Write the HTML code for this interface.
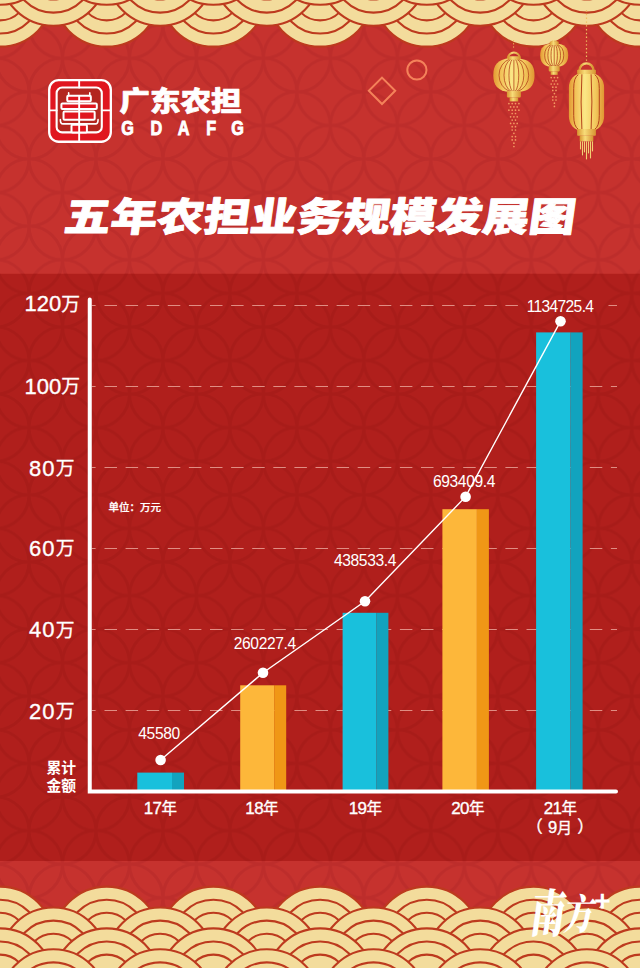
<!DOCTYPE html>
<html lang="zh"><head><meta charset="utf-8"><title>五年农担业务规模发展图</title>
<style>
html,body{margin:0;padding:0;background:#c6322e;}
body{width:640px;height:968px;overflow:hidden;position:relative;font-family:"Liberation Sans","Noto Sans CJK SC",sans-serif;}
svg{position:absolute;left:0;top:0;display:block}
text{font-family:"Liberation Sans","Noto Sans CJK SC",sans-serif;fill:#fff}
.blk{font-family:"Noto Sans CJK SC","Liberation Sans",sans-serif;font-weight:900}
</style></head><body>
<svg width="640" height="968" viewBox="0 0 640 968">
<defs>
<pattern id="pl" x="29.00" y="24.68" width="66.96" height="67.16" patternUnits="userSpaceOnUse"><ellipse cx="33.48" cy="0.00" rx="33.48" ry="33.58" fill="none" stroke="#bd2d2b" stroke-width="3.2"/><ellipse cx="0.00" cy="33.58" rx="33.48" ry="33.58" fill="none" stroke="#bd2d2b" stroke-width="3.2"/><ellipse cx="66.96" cy="33.58" rx="33.48" ry="33.58" fill="none" stroke="#bd2d2b" stroke-width="3.2"/><ellipse cx="33.48" cy="67.16" rx="33.48" ry="33.58" fill="none" stroke="#bd2d2b" stroke-width="3.2"/></pattern>
<pattern id="pd" x="29.00" y="24.68" width="66.96" height="67.16" patternUnits="userSpaceOnUse"><ellipse cx="33.48" cy="0.00" rx="33.48" ry="33.58" fill="none" stroke="#a81c19" stroke-width="3.2"/><ellipse cx="0.00" cy="33.58" rx="33.48" ry="33.58" fill="none" stroke="#a81c19" stroke-width="3.2"/><ellipse cx="66.96" cy="33.58" rx="33.48" ry="33.58" fill="none" stroke="#a81c19" stroke-width="3.2"/><ellipse cx="33.48" cy="67.16" rx="33.48" ry="33.58" fill="none" stroke="#a81c19" stroke-width="3.2"/></pattern>
<linearGradient id="gold" x1="0" x2="1" y1="0" y2="0">
<stop offset="0" stop-color="#e39a33"/><stop offset=".18" stop-color="#f2c157"/><stop offset=".45" stop-color="#fbe786"/><stop offset=".75" stop-color="#f3c95e"/><stop offset="1" stop-color="#e09632"/>
</linearGradient>
<linearGradient id="gold2" x1="0" x2="1" y1="0" y2="0">
<stop offset="0" stop-color="#d9952f"/><stop offset=".4" stop-color="#f7dc78"/><stop offset="1" stop-color="#d69230"/>
</linearGradient>
</defs>
<rect width="640" height="968" fill="#c6322e"/>
<rect width="640" height="968" fill="url(#pl)"/>
<rect x="0" y="273.8" width="640" height="587.2" fill="#b01f1c"/>
<rect x="0" y="273.8" width="640" height="587.2" fill="url(#pd)"/>
<g transform="translate(0,886.6)" stroke="#bd3a1e" stroke-width="2.1" fill="none"><circle cx="0.0" cy="53.6" r="53.6" fill="#f3dc9c"/><circle cx="0.0" cy="53.6" r="40.5"/><circle cx="0.0" cy="53.6" r="27.4"/><circle cx="106.7" cy="53.6" r="53.6" fill="#f3dc9c"/><circle cx="106.7" cy="53.6" r="40.5"/><circle cx="106.7" cy="53.6" r="27.4"/><circle cx="213.4" cy="53.6" r="53.6" fill="#f3dc9c"/><circle cx="213.4" cy="53.6" r="40.5"/><circle cx="213.4" cy="53.6" r="27.4"/><circle cx="320.1" cy="53.6" r="53.6" fill="#f3dc9c"/><circle cx="320.1" cy="53.6" r="40.5"/><circle cx="320.1" cy="53.6" r="27.4"/><circle cx="426.8" cy="53.6" r="53.6" fill="#f3dc9c"/><circle cx="426.8" cy="53.6" r="40.5"/><circle cx="426.8" cy="53.6" r="27.4"/><circle cx="533.5" cy="53.6" r="53.6" fill="#f3dc9c"/><circle cx="533.5" cy="53.6" r="40.5"/><circle cx="533.5" cy="53.6" r="27.4"/><circle cx="640.2" cy="53.6" r="53.6" fill="#f3dc9c"/><circle cx="640.2" cy="53.6" r="40.5"/><circle cx="640.2" cy="53.6" r="27.4"/>
<circle cx="-53.4" cy="74.5" r="53.6" fill="#f3dc9c"/><circle cx="-53.4" cy="74.5" r="40.5"/><circle cx="-53.4" cy="74.5" r="27.4"/><circle cx="53.4" cy="74.5" r="53.6" fill="#f3dc9c"/><circle cx="53.4" cy="74.5" r="40.5"/><circle cx="53.4" cy="74.5" r="27.4"/><circle cx="160.1" cy="74.5" r="53.6" fill="#f3dc9c"/><circle cx="160.1" cy="74.5" r="40.5"/><circle cx="160.1" cy="74.5" r="27.4"/><circle cx="266.8" cy="74.5" r="53.6" fill="#f3dc9c"/><circle cx="266.8" cy="74.5" r="40.5"/><circle cx="266.8" cy="74.5" r="27.4"/><circle cx="373.5" cy="74.5" r="53.6" fill="#f3dc9c"/><circle cx="373.5" cy="74.5" r="40.5"/><circle cx="373.5" cy="74.5" r="27.4"/><circle cx="480.2" cy="74.5" r="53.6" fill="#f3dc9c"/><circle cx="480.2" cy="74.5" r="40.5"/><circle cx="480.2" cy="74.5" r="27.4"/><circle cx="586.9" cy="74.5" r="53.6" fill="#f3dc9c"/><circle cx="586.9" cy="74.5" r="40.5"/><circle cx="586.9" cy="74.5" r="27.4"/><circle cx="693.6" cy="74.5" r="53.6" fill="#f3dc9c"/><circle cx="693.6" cy="74.5" r="40.5"/><circle cx="693.6" cy="74.5" r="27.4"/>
<circle cx="0.0" cy="95.4" r="53.6" fill="#f3dc9c"/><circle cx="0.0" cy="95.4" r="40.5"/><circle cx="0.0" cy="95.4" r="27.4"/><circle cx="106.7" cy="95.4" r="53.6" fill="#f3dc9c"/><circle cx="106.7" cy="95.4" r="40.5"/><circle cx="106.7" cy="95.4" r="27.4"/><circle cx="213.4" cy="95.4" r="53.6" fill="#f3dc9c"/><circle cx="213.4" cy="95.4" r="40.5"/><circle cx="213.4" cy="95.4" r="27.4"/><circle cx="320.1" cy="95.4" r="53.6" fill="#f3dc9c"/><circle cx="320.1" cy="95.4" r="40.5"/><circle cx="320.1" cy="95.4" r="27.4"/><circle cx="426.8" cy="95.4" r="53.6" fill="#f3dc9c"/><circle cx="426.8" cy="95.4" r="40.5"/><circle cx="426.8" cy="95.4" r="27.4"/><circle cx="533.5" cy="95.4" r="53.6" fill="#f3dc9c"/><circle cx="533.5" cy="95.4" r="40.5"/><circle cx="533.5" cy="95.4" r="27.4"/><circle cx="640.2" cy="95.4" r="53.6" fill="#f3dc9c"/><circle cx="640.2" cy="95.4" r="40.5"/><circle cx="640.2" cy="95.4" r="27.4"/>
<circle cx="-53.4" cy="116.3" r="53.6" fill="#f3dc9c"/><circle cx="-53.4" cy="116.3" r="40.5"/><circle cx="-53.4" cy="116.3" r="27.4"/><circle cx="53.4" cy="116.3" r="53.6" fill="#f3dc9c"/><circle cx="53.4" cy="116.3" r="40.5"/><circle cx="53.4" cy="116.3" r="27.4"/><circle cx="160.1" cy="116.3" r="53.6" fill="#f3dc9c"/><circle cx="160.1" cy="116.3" r="40.5"/><circle cx="160.1" cy="116.3" r="27.4"/><circle cx="266.8" cy="116.3" r="53.6" fill="#f3dc9c"/><circle cx="266.8" cy="116.3" r="40.5"/><circle cx="266.8" cy="116.3" r="27.4"/><circle cx="373.5" cy="116.3" r="53.6" fill="#f3dc9c"/><circle cx="373.5" cy="116.3" r="40.5"/><circle cx="373.5" cy="116.3" r="27.4"/><circle cx="480.2" cy="116.3" r="53.6" fill="#f3dc9c"/><circle cx="480.2" cy="116.3" r="40.5"/><circle cx="480.2" cy="116.3" r="27.4"/><circle cx="586.9" cy="116.3" r="53.6" fill="#f3dc9c"/><circle cx="586.9" cy="116.3" r="40.5"/><circle cx="586.9" cy="116.3" r="27.4"/><circle cx="693.6" cy="116.3" r="53.6" fill="#f3dc9c"/><circle cx="693.6" cy="116.3" r="40.5"/><circle cx="693.6" cy="116.3" r="27.4"/>
<circle cx="0.0" cy="137.2" r="53.6" fill="#f3dc9c"/><circle cx="0.0" cy="137.2" r="40.5"/><circle cx="0.0" cy="137.2" r="27.4"/><circle cx="106.7" cy="137.2" r="53.6" fill="#f3dc9c"/><circle cx="106.7" cy="137.2" r="40.5"/><circle cx="106.7" cy="137.2" r="27.4"/><circle cx="213.4" cy="137.2" r="53.6" fill="#f3dc9c"/><circle cx="213.4" cy="137.2" r="40.5"/><circle cx="213.4" cy="137.2" r="27.4"/><circle cx="320.1" cy="137.2" r="53.6" fill="#f3dc9c"/><circle cx="320.1" cy="137.2" r="40.5"/><circle cx="320.1" cy="137.2" r="27.4"/><circle cx="426.8" cy="137.2" r="53.6" fill="#f3dc9c"/><circle cx="426.8" cy="137.2" r="40.5"/><circle cx="426.8" cy="137.2" r="27.4"/><circle cx="533.5" cy="137.2" r="53.6" fill="#f3dc9c"/><circle cx="533.5" cy="137.2" r="40.5"/><circle cx="533.5" cy="137.2" r="27.4"/><circle cx="640.2" cy="137.2" r="53.6" fill="#f3dc9c"/><circle cx="640.2" cy="137.2" r="40.5"/><circle cx="640.2" cy="137.2" r="27.4"/>
</g>
<g transform="translate(0,46.6) scale(1,-1)" stroke="#bd3a1e" stroke-width="2.1" fill="none"><circle cx="0.0" cy="53.6" r="53.6" fill="#f3dc9c"/><circle cx="0.0" cy="53.6" r="40.5"/><circle cx="0.0" cy="53.6" r="27.4"/><circle cx="106.7" cy="53.6" r="53.6" fill="#f3dc9c"/><circle cx="106.7" cy="53.6" r="40.5"/><circle cx="106.7" cy="53.6" r="27.4"/><circle cx="213.4" cy="53.6" r="53.6" fill="#f3dc9c"/><circle cx="213.4" cy="53.6" r="40.5"/><circle cx="213.4" cy="53.6" r="27.4"/><circle cx="320.1" cy="53.6" r="53.6" fill="#f3dc9c"/><circle cx="320.1" cy="53.6" r="40.5"/><circle cx="320.1" cy="53.6" r="27.4"/><circle cx="426.8" cy="53.6" r="53.6" fill="#f3dc9c"/><circle cx="426.8" cy="53.6" r="40.5"/><circle cx="426.8" cy="53.6" r="27.4"/><circle cx="533.5" cy="53.6" r="53.6" fill="#f3dc9c"/><circle cx="533.5" cy="53.6" r="40.5"/><circle cx="533.5" cy="53.6" r="27.4"/><circle cx="640.2" cy="53.6" r="53.6" fill="#f3dc9c"/><circle cx="640.2" cy="53.6" r="40.5"/><circle cx="640.2" cy="53.6" r="27.4"/>
<circle cx="-53.4" cy="74.5" r="53.6" fill="#f3dc9c"/><circle cx="-53.4" cy="74.5" r="40.5"/><circle cx="-53.4" cy="74.5" r="27.4"/><circle cx="53.4" cy="74.5" r="53.6" fill="#f3dc9c"/><circle cx="53.4" cy="74.5" r="40.5"/><circle cx="53.4" cy="74.5" r="27.4"/><circle cx="160.1" cy="74.5" r="53.6" fill="#f3dc9c"/><circle cx="160.1" cy="74.5" r="40.5"/><circle cx="160.1" cy="74.5" r="27.4"/><circle cx="266.8" cy="74.5" r="53.6" fill="#f3dc9c"/><circle cx="266.8" cy="74.5" r="40.5"/><circle cx="266.8" cy="74.5" r="27.4"/><circle cx="373.5" cy="74.5" r="53.6" fill="#f3dc9c"/><circle cx="373.5" cy="74.5" r="40.5"/><circle cx="373.5" cy="74.5" r="27.4"/><circle cx="480.2" cy="74.5" r="53.6" fill="#f3dc9c"/><circle cx="480.2" cy="74.5" r="40.5"/><circle cx="480.2" cy="74.5" r="27.4"/><circle cx="586.9" cy="74.5" r="53.6" fill="#f3dc9c"/><circle cx="586.9" cy="74.5" r="40.5"/><circle cx="586.9" cy="74.5" r="27.4"/><circle cx="693.6" cy="74.5" r="53.6" fill="#f3dc9c"/><circle cx="693.6" cy="74.5" r="40.5"/><circle cx="693.6" cy="74.5" r="27.4"/>
<circle cx="0.0" cy="95.4" r="53.6" fill="#f3dc9c"/><circle cx="0.0" cy="95.4" r="40.5"/><circle cx="0.0" cy="95.4" r="27.4"/><circle cx="106.7" cy="95.4" r="53.6" fill="#f3dc9c"/><circle cx="106.7" cy="95.4" r="40.5"/><circle cx="106.7" cy="95.4" r="27.4"/><circle cx="213.4" cy="95.4" r="53.6" fill="#f3dc9c"/><circle cx="213.4" cy="95.4" r="40.5"/><circle cx="213.4" cy="95.4" r="27.4"/><circle cx="320.1" cy="95.4" r="53.6" fill="#f3dc9c"/><circle cx="320.1" cy="95.4" r="40.5"/><circle cx="320.1" cy="95.4" r="27.4"/><circle cx="426.8" cy="95.4" r="53.6" fill="#f3dc9c"/><circle cx="426.8" cy="95.4" r="40.5"/><circle cx="426.8" cy="95.4" r="27.4"/><circle cx="533.5" cy="95.4" r="53.6" fill="#f3dc9c"/><circle cx="533.5" cy="95.4" r="40.5"/><circle cx="533.5" cy="95.4" r="27.4"/><circle cx="640.2" cy="95.4" r="53.6" fill="#f3dc9c"/><circle cx="640.2" cy="95.4" r="40.5"/><circle cx="640.2" cy="95.4" r="27.4"/>
<circle cx="-53.4" cy="116.3" r="53.6" fill="#f3dc9c"/><circle cx="-53.4" cy="116.3" r="40.5"/><circle cx="-53.4" cy="116.3" r="27.4"/><circle cx="53.4" cy="116.3" r="53.6" fill="#f3dc9c"/><circle cx="53.4" cy="116.3" r="40.5"/><circle cx="53.4" cy="116.3" r="27.4"/><circle cx="160.1" cy="116.3" r="53.6" fill="#f3dc9c"/><circle cx="160.1" cy="116.3" r="40.5"/><circle cx="160.1" cy="116.3" r="27.4"/><circle cx="266.8" cy="116.3" r="53.6" fill="#f3dc9c"/><circle cx="266.8" cy="116.3" r="40.5"/><circle cx="266.8" cy="116.3" r="27.4"/><circle cx="373.5" cy="116.3" r="53.6" fill="#f3dc9c"/><circle cx="373.5" cy="116.3" r="40.5"/><circle cx="373.5" cy="116.3" r="27.4"/><circle cx="480.2" cy="116.3" r="53.6" fill="#f3dc9c"/><circle cx="480.2" cy="116.3" r="40.5"/><circle cx="480.2" cy="116.3" r="27.4"/><circle cx="586.9" cy="116.3" r="53.6" fill="#f3dc9c"/><circle cx="586.9" cy="116.3" r="40.5"/><circle cx="586.9" cy="116.3" r="27.4"/><circle cx="693.6" cy="116.3" r="53.6" fill="#f3dc9c"/><circle cx="693.6" cy="116.3" r="40.5"/><circle cx="693.6" cy="116.3" r="27.4"/>
<circle cx="0.0" cy="137.2" r="53.6" fill="#f3dc9c"/><circle cx="0.0" cy="137.2" r="40.5"/><circle cx="0.0" cy="137.2" r="27.4"/><circle cx="106.7" cy="137.2" r="53.6" fill="#f3dc9c"/><circle cx="106.7" cy="137.2" r="40.5"/><circle cx="106.7" cy="137.2" r="27.4"/><circle cx="213.4" cy="137.2" r="53.6" fill="#f3dc9c"/><circle cx="213.4" cy="137.2" r="40.5"/><circle cx="213.4" cy="137.2" r="27.4"/><circle cx="320.1" cy="137.2" r="53.6" fill="#f3dc9c"/><circle cx="320.1" cy="137.2" r="40.5"/><circle cx="320.1" cy="137.2" r="27.4"/><circle cx="426.8" cy="137.2" r="53.6" fill="#f3dc9c"/><circle cx="426.8" cy="137.2" r="40.5"/><circle cx="426.8" cy="137.2" r="27.4"/><circle cx="533.5" cy="137.2" r="53.6" fill="#f3dc9c"/><circle cx="533.5" cy="137.2" r="40.5"/><circle cx="533.5" cy="137.2" r="27.4"/><circle cx="640.2" cy="137.2" r="53.6" fill="#f3dc9c"/><circle cx="640.2" cy="137.2" r="40.5"/><circle cx="640.2" cy="137.2" r="27.4"/>
</g>
<circle cx="416.9" cy="70" r="9.6" fill="none" stroke="#f4825a" stroke-width="2"/>
<path d="M382 77.6 L395.2 90.8 L382 104 L368.8 90.8 Z" fill="none" stroke="#f4825a" stroke-width="2"/>
<g><path d="M507.7 58.8A6.2 6.2 0 0 1 520.1 58.8" fill="none" stroke="url(#gold2)" stroke-width="2.0"/><path d="M513.9 58.2C529.9 58.2 534.5 64.7 534.5 75.2C534.5 85.7 529.9 92.2 513.9 92.2C497.9 92.2 493.3 85.7 493.3 75.2C493.3 64.7 497.9 58.2 513.9 58.2Z" fill="url(#gold)"/><path d="M509.8 59.0 A15.1 16.9 0 0 0 509.8 91.4" fill="none" stroke="#b5451c" stroke-width=".8"/><path d="M511.2 59.0 A10.1 16.9 0 0 0 511.2 91.4" fill="none" stroke="#b5451c" stroke-width=".8"/><path d="M512.5 59.0 A5.0 16.9 0 0 0 512.5 91.4" fill="none" stroke="#b5451c" stroke-width=".8"/><line x1="513.9" y1="59.2" x2="513.9" y2="91.2" stroke="#b5451c" stroke-width=".8"/><path d="M515.2 59.0 A5.0 16.9 0 0 1 515.2 91.4" fill="none" stroke="#b5451c" stroke-width=".8"/><path d="M516.6 59.0 A10.1 16.9 0 0 1 516.6 91.4" fill="none" stroke="#b5451c" stroke-width=".8"/><path d="M517.9 59.0 A15.1 16.9 0 0 1 517.9 91.4" fill="none" stroke="#b5451c" stroke-width=".8"/><rect x="507.9" y="56.2" width="12.0" height="3.6" rx=".8" fill="url(#gold2)"/><rect x="506.9" y="91.2" width="14.0" height="6.2" rx=".8" fill="url(#gold2)"/><rect x="509.6" y="97.4" width="8.6" height="4.0" fill="url(#gold2)"/></g>
<g><path d="M551.0 44.1A3.2 3.2 0 0 1 557.4 44.1" fill="none" stroke="url(#gold2)" stroke-width="1.2"/><path d="M554.2 43.6C565.0 43.6 568.2 48.1 568.2 55.3C568.2 62.5 565.0 67.0 554.2 67.0C543.4 67.0 540.2 62.5 540.2 55.3C540.2 48.1 543.4 43.6 554.2 43.6Z" fill="url(#gold)"/><path d="M551.2 44.4 A10.3 11.7 0 0 0 551.2 66.2" fill="none" stroke="#b5451c" stroke-width=".8"/><path d="M552.2 44.4 A6.8 11.7 0 0 0 552.2 66.2" fill="none" stroke="#b5451c" stroke-width=".8"/><path d="M553.2 44.4 A3.4 11.7 0 0 0 553.2 66.2" fill="none" stroke="#b5451c" stroke-width=".8"/><line x1="554.2" y1="44.6" x2="554.2" y2="66.0" stroke="#b5451c" stroke-width=".8"/><path d="M555.2 44.4 A3.4 11.7 0 0 1 555.2 66.2" fill="none" stroke="#b5451c" stroke-width=".8"/><path d="M556.2 44.4 A6.8 11.7 0 0 1 556.2 66.2" fill="none" stroke="#b5451c" stroke-width=".8"/><path d="M557.2 44.4 A10.3 11.7 0 0 1 557.2 66.2" fill="none" stroke="#b5451c" stroke-width=".8"/><rect x="549.7" y="41.6" width="9.0" height="3.6" rx=".8" fill="url(#gold2)"/><rect x="548.7" y="66.0" width="11.0" height="5.4" rx=".8" fill="url(#gold2)"/><rect x="550.7" y="71.4" width="7.0" height="3.4" fill="url(#gold2)"/></g>
<circle cx="508.9" cy="103.6" r=".85" fill="#f39a62"/><circle cx="512.2" cy="103.6" r=".85" fill="#f39a62"/><circle cx="515.5" cy="103.6" r=".85" fill="#f39a62"/><circle cx="518.9" cy="103.6" r=".85" fill="#f39a62"/><circle cx="510.6" cy="106.9" r=".85" fill="#f39a62"/><circle cx="513.9" cy="106.9" r=".85" fill="#f39a62"/><circle cx="517.2" cy="106.9" r=".85" fill="#f39a62"/><circle cx="508.9" cy="110.2" r=".85" fill="#f39a62"/><circle cx="512.2" cy="110.2" r=".85" fill="#f39a62"/><circle cx="515.5" cy="110.2" r=".85" fill="#f39a62"/><circle cx="518.9" cy="110.2" r=".85" fill="#f39a62"/><circle cx="512.2" cy="113.5" r=".85" fill="#f39a62"/><circle cx="515.5" cy="113.5" r=".85" fill="#f39a62"/><circle cx="510.6" cy="116.8" r=".85" fill="#f39a62"/><circle cx="513.9" cy="116.8" r=".85" fill="#f39a62"/><circle cx="517.2" cy="116.8" r=".85" fill="#f39a62"/><circle cx="512.2" cy="120.1" r=".85" fill="#f39a62"/><circle cx="515.5" cy="120.1" r=".85" fill="#f39a62"/><circle cx="510.6" cy="123.4" r=".85" fill="#f39a62"/><circle cx="513.9" cy="123.4" r=".85" fill="#f39a62"/><circle cx="517.2" cy="123.4" r=".85" fill="#f39a62"/><circle cx="512.2" cy="126.7" r=".85" fill="#f39a62"/><circle cx="515.5" cy="126.7" r=".85" fill="#f39a62"/><circle cx="512.2" cy="130.0" r=".85" fill="#f39a62"/><circle cx="515.5" cy="130.0" r=".85" fill="#f39a62"/><circle cx="513.9" cy="133.3" r=".85" fill="#f39a62"/><circle cx="512.2" cy="136.6" r=".85" fill="#f39a62"/><circle cx="515.5" cy="136.6" r=".85" fill="#f39a62"/><circle cx="512.2" cy="139.9" r=".85" fill="#f39a62"/><circle cx="515.5" cy="139.9" r=".85" fill="#f39a62"/><circle cx="513.9" cy="143.2" r=".85" fill="#f39a62"/><circle cx="513.9" cy="146.5" r=".85" fill="#f39a62"/>
<circle cx="551.2" cy="77.6" r=".85" fill="#f39a62"/><circle cx="554.4" cy="77.6" r=".85" fill="#f39a62"/><circle cx="557.6" cy="77.6" r=".85" fill="#f39a62"/><circle cx="552.8" cy="80.8" r=".85" fill="#f39a62"/><circle cx="556.0" cy="80.8" r=".85" fill="#f39a62"/><circle cx="551.2" cy="84.0" r=".85" fill="#f39a62"/><circle cx="554.4" cy="84.0" r=".85" fill="#f39a62"/><circle cx="557.6" cy="84.0" r=".85" fill="#f39a62"/><circle cx="552.8" cy="87.2" r=".85" fill="#f39a62"/><circle cx="556.0" cy="87.2" r=".85" fill="#f39a62"/><circle cx="552.8" cy="90.4" r=".85" fill="#f39a62"/><circle cx="556.0" cy="90.4" r=".85" fill="#f39a62"/><circle cx="554.4" cy="93.6" r=".85" fill="#f39a62"/><circle cx="552.8" cy="96.8" r=".85" fill="#f39a62"/><circle cx="556.0" cy="96.8" r=".85" fill="#f39a62"/><circle cx="552.8" cy="100.0" r=".85" fill="#f39a62"/><circle cx="556.0" cy="100.0" r=".85" fill="#f39a62"/><circle cx="554.4" cy="103.2" r=".85" fill="#f39a62"/><circle cx="554.4" cy="106.4" r=".85" fill="#f39a62"/>
<line x1="513.6" y1="40" x2="513.6" y2="49" stroke="#f0c060" stroke-width="1" stroke-dasharray="1.2 2"/>
<line x1="586.5" y1="10" x2="586.5" y2="61" stroke="#f0c060" stroke-width="1.2" stroke-dasharray="1.4 2.4"/>
<g><path d="M579.5 70.3A7.0 7.0 0 0 1 593.5 70.3" fill="none" stroke="url(#gold2)" stroke-width="2.3"/><rect x="568.9" y="73.5" width="35.2" height="57.0" rx="12.5" ry="14" fill="url(#gold)"/><path d="M578.3 74.7Q573.7 77.5 573.7 88.5V115.5Q573.7 126.5 578.3 129.3" fill="none" stroke="#b5451c" stroke-width="1"/><path d="M581.9 74.3Q580.3 102.0 581.9 129.7" fill="none" stroke="#b5451c" stroke-width="1"/><path d="M594.7 74.7Q599.3 77.5 599.3 88.5V115.5Q599.3 126.5 594.7 129.3" fill="none" stroke="#b5451c" stroke-width="1"/><path d="M591.1 74.3Q592.7 102.0 591.1 129.7" fill="none" stroke="#b5451c" stroke-width="1"/><rect x="577.1" y="69.8" width="18.8" height="4.2" rx=".8" fill="url(#gold2)"/><rect x="577.1" y="129" width="18.8" height="6.7" rx=".8" fill="url(#gold2)"/><rect x="579.7" y="135.7" width="13.6" height="5.7" fill="url(#gold2)"/><line x1="580.5" y1="141.4" x2="580.5" y2="149.4" stroke="#f3cf73" stroke-width="1.1"/><line x1="582.5" y1="141.4" x2="582.5" y2="155.4" stroke="#f3cf73" stroke-width="1.1"/><line x1="584.5" y1="141.4" x2="584.5" y2="152.4" stroke="#f3cf73" stroke-width="1.1"/><line x1="586.5" y1="141.4" x2="586.5" y2="159.4" stroke="#f3cf73" stroke-width="1.1"/><line x1="588.5" y1="141.4" x2="588.5" y2="153.4" stroke="#f3cf73" stroke-width="1.1"/><line x1="590.5" y1="141.4" x2="590.5" y2="158.4" stroke="#f3cf73" stroke-width="1.1"/><line x1="592.5" y1="141.4" x2="592.5" y2="151.4" stroke="#f3cf73" stroke-width="1.1"/></g>
<g stroke-linecap="round" stroke-linejoin="round"><rect x="49.19" y="80.13" width="61.64" height="61.64" rx="9.5" fill="#e0161f" stroke="#fff" stroke-width="2.3"/><rect x="56.63" y="87.56" width="45.16" height="44.85" rx="5.5" fill="#b3261f" stroke="#fff" stroke-width="2.1"/><path d="M79.16 80.13V87.56M79.16 132.41V141.76M49.19 110.41H56.63M101.79 110.41H110.82" stroke="#fff" stroke-width="1.9" fill="none"/><rect x="71.50" y="124.76" width="15.41" height="7.65" rx="1" fill="#e0161f" stroke="#fff" stroke-width="2.0"/><rect x="67.25" y="95.85" width="23.59" height="5.31" rx="1" fill="#e0161f" stroke="#fff" stroke-width="2.0"/><rect x="61.41" y="103.50" width="35.39" height="5.53" rx="1" fill="#e0161f" stroke="#fff" stroke-width="2.0"/><rect x="63.53" y="111.48" width="31.14" height="8.18" rx="1" fill="#e0161f" stroke="#fff" stroke-width="2.0"/><path d="M60.35 119.66Q60.35 123.91 63.00 123.91H95.42Q98.07 123.91 98.07 119.66" stroke="#fff" stroke-width="1.6" fill="none"/><path d="M68.64 92.88V95.85" stroke="#fff" stroke-width="1.6"/><path d="M89.78 92.88V95.85" stroke="#fff" stroke-width="1.6"/><path d="M79.16 95.85V132.41" stroke="#fff" stroke-width="1.9"/></g>
<text class="blk" transform="translate(119.5,110.5) scale(1.13,1)" font-size="27" letter-spacing="0" stroke="#fff" stroke-width=".7" stroke-linejoin="round">广东农担</text>
<text transform="translate(0,134.7) scale(.8,1)" x="159.38 195.50 229.62 264.12 296.88" font-size="20.3" font-weight="700" stroke="#fff" stroke-width=".9" text-anchor="middle">GDAFG</text>
<text id="title" class="blk" transform="translate(62.8,230.5) skewX(-8) scale(1.177,1)" font-size="39.5" letter-spacing="0" stroke="#fff" stroke-width=".9" stroke-linejoin="round">五年农担业务规模发展图</text>
<line x1="104.5" y1="305.5" x2="524" y2="305.5" stroke="#e9a196" stroke-width="1" stroke-dasharray="12.5 8.6" opacity=".85"/>
<line x1="104.5" y1="386.5" x2="617" y2="386.5" stroke="#e9a196" stroke-width="1" stroke-dasharray="12.5 8.6" opacity=".85"/>
<line x1="104.5" y1="467.5" x2="617" y2="467.5" stroke="#e9a196" stroke-width="1" stroke-dasharray="12.5 8.6" opacity=".85"/>
<line x1="104.5" y1="548.5" x2="617" y2="548.5" stroke="#e9a196" stroke-width="1" stroke-dasharray="12.5 8.6" opacity=".85"/>
<line x1="104.5" y1="629.5" x2="617" y2="629.5" stroke="#e9a196" stroke-width="1" stroke-dasharray="12.5 8.6" opacity=".85"/>
<line x1="104.5" y1="710.5" x2="617" y2="710.5" stroke="#e9a196" stroke-width="1" stroke-dasharray="12.5 8.6" opacity=".85"/>
<line x1="608.5" y1="305.5" x2="617" y2="305.5" stroke="#e9a196" stroke-width="1" opacity=".85"/>
<text x="52.3" y="311.1" font-size="22" text-anchor="middle" letter-spacing="0" stroke="#fff" stroke-width=".35">120<tspan font-size="18.8" dy="-.6" stroke-width=".3">万</tspan></text>
<line x1="91.7" y1="305.5" x2="95.6" y2="305.5" stroke="#e9a196" stroke-width="1" opacity=".85"/>
<text x="52.3" y="393.5" font-size="22" text-anchor="middle" letter-spacing="0" stroke="#fff" stroke-width=".35">100<tspan font-size="18.8" dy="-.6" stroke-width=".3">万</tspan></text>
<line x1="91.7" y1="386.5" x2="95.6" y2="386.5" stroke="#e9a196" stroke-width="1" opacity=".85"/>
<text x="52.3" y="476.0" font-size="22" text-anchor="middle" letter-spacing="1.1" stroke="#fff" stroke-width=".35">80<tspan font-size="18.8" dy="-.6" stroke-width=".3">万</tspan></text>
<line x1="91.7" y1="467.5" x2="95.6" y2="467.5" stroke="#e9a196" stroke-width="1" opacity=".85"/>
<text x="52.3" y="555.7" font-size="22" text-anchor="middle" letter-spacing="1.1" stroke="#fff" stroke-width=".35">60<tspan font-size="18.8" dy="-.6" stroke-width=".3">万</tspan></text>
<line x1="91.7" y1="548.5" x2="95.6" y2="548.5" stroke="#e9a196" stroke-width="1" opacity=".85"/>
<text x="52.3" y="637.1" font-size="22" text-anchor="middle" letter-spacing="1.1" stroke="#fff" stroke-width=".35">40<tspan font-size="18.8" dy="-.6" stroke-width=".3">万</tspan></text>
<line x1="91.7" y1="629.5" x2="95.6" y2="629.5" stroke="#e9a196" stroke-width="1" opacity=".85"/>
<text x="52.3" y="719.0" font-size="22" text-anchor="middle" letter-spacing="1.1" stroke="#fff" stroke-width=".35">20<tspan font-size="18.8" dy="-.6" stroke-width=".3">万</tspan></text>
<line x1="91.7" y1="710.5" x2="95.6" y2="710.5" stroke="#e9a196" stroke-width="1" opacity=".85"/>
<text x="108.6" y="510.6" font-size="10.5" stroke="#fff" stroke-width=".25" style="font-family:'Noto Sans CJK SC',sans-serif;font-weight:500">单位：万元</text>
<text x="46.4" y="772.8" font-size="14.8" style="font-family:'Noto Sans CJK SC',sans-serif;font-weight:700">累计</text>
<text x="46.4" y="791.4" font-size="14.8" style="font-family:'Noto Sans CJK SC',sans-serif;font-weight:700">金额</text>
<rect x="137.3" y="772.6" width="34.7" height="17.4" fill="#19c0dc"/><rect x="172" y="772.6" width="12.0" height="17.4" fill="#12a3be"/>
<rect x="240.2" y="685.3" width="34.0" height="104.7" fill="#fdb73a"/><rect x="274.2" y="685.3" width="12.0" height="104.7" fill="#f09716"/>
<rect x="342.6" y="612.8" width="33.6" height="177.2" fill="#19c0dc"/><rect x="376.2" y="612.8" width="12.2" height="177.2" fill="#12a3be"/>
<rect x="442.4" y="509.2" width="34.5" height="280.8" fill="#fdb73a"/><rect x="476.9" y="509.2" width="12.0" height="280.8" fill="#f09716"/>
<rect x="536.1" y="332.4" width="34.5" height="457.6" fill="#19c0dc"/><rect x="570.6" y="332.4" width="12.0" height="457.6" fill="#12a3be"/>
<path d="M89.75 299.5V791.55H616" fill="none" stroke="#fff" stroke-width="4" stroke-linecap="round" stroke-linejoin="miter"/>
<polyline points="160.6,760 263,672.8 365,601.3 465.6,496.7 560.5,321.3" fill="none" stroke="#fff" stroke-width="1.4"/>
<circle cx="160.6" cy="760" r="5.3" fill="#fff"/>
<circle cx="263" cy="672.8" r="5.3" fill="#fff"/>
<circle cx="365" cy="601.3" r="5.3" fill="#fff"/>
<circle cx="465.6" cy="496.7" r="5.3" fill="#fff"/>
<circle cx="560.5" cy="321.3" r="5.3" fill="#fff"/>
<text x="159.1" y="739.4" font-size="15.6" letter-spacing="-0.35" text-anchor="middle">45580</text>
<text x="264.8" y="649.4" font-size="15.6" letter-spacing="-0.35" text-anchor="middle">260227.4</text>
<text x="365.0" y="566.0" font-size="15.6" letter-spacing="-0.35" text-anchor="middle">438533.4</text>
<text x="464" y="487.4" font-size="15.6" letter-spacing="-0.35" text-anchor="middle">693409.4</text>
<text x="560" y="311.7" font-size="15.6" letter-spacing="-0.65" text-anchor="middle">1134725.4</text>
<text x="160" y="813.9" font-size="17" letter-spacing="-.6" text-anchor="middle" stroke="#fff" stroke-width=".35">17<tspan font-size="15.5">年</tspan></text>
<text x="261.6" y="813.9" font-size="17" letter-spacing="-.6" text-anchor="middle" stroke="#fff" stroke-width=".35">18<tspan font-size="15.5">年</tspan></text>
<text x="365" y="813.9" font-size="17" letter-spacing="-.6" text-anchor="middle" stroke="#fff" stroke-width=".35">19<tspan font-size="15.5">年</tspan></text>
<text x="467.5" y="813.9" font-size="17" letter-spacing="-.6" text-anchor="middle" stroke="#fff" stroke-width=".35">20<tspan font-size="15.5">年</tspan></text>
<text x="560" y="813.9" font-size="17" letter-spacing="-.6" text-anchor="middle" stroke="#fff" stroke-width=".35">21<tspan font-size="15.5">年</tspan></text>
<text x="560" y="832.6" font-size="16.5" text-anchor="middle" letter-spacing="0" stroke="#fff" stroke-width=".35">（<tspan dx="5.2">9</tspan><tspan font-size="15">月</tspan><tspan dx="5.2">）</tspan></text>
<text transform="translate(529,931.5) skewX(-8) scale(.97,1.46)" font-size="35" style="font-family:'Noto Serif CJK SC',serif;font-weight:900">南</text>
<text transform="translate(563,929) skewX(-8) scale(.88,1.18)" font-size="35" style="font-family:'Noto Serif CJK SC',serif;font-weight:900">方</text>
<text x="602.3" y="909.6" font-size="27" text-anchor="middle" stroke="#fff" stroke-width="1.1">+</text>
</svg></body></html>
